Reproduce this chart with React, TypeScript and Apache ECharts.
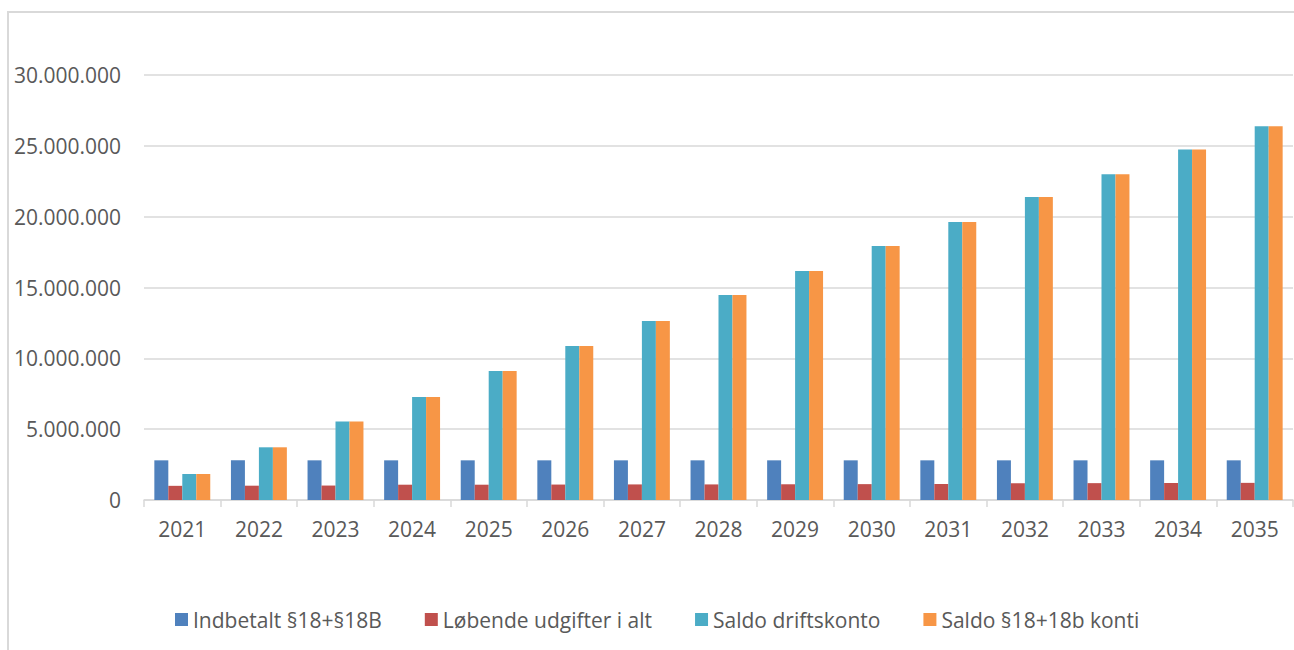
import React, { useEffect, useRef } from "react";
import * as echarts from "echarts";

const years = ["2021", "2022", "2023", "2024", "2025", "2026", "2027", "2028", "2029", "2030", "2031", "2032", "2033", "2034", "2035"];
const indbetalt = [2800000, 2800000, 2800000, 2800000, 2800000, 2800000, 2800000, 2800000, 2800000, 2800000, 2800000, 2800000, 2800000, 2800000, 2800000];
const loebende = [1000000, 1010000, 1020000, 1080000, 1080000, 1090000, 1100000, 1100000, 1110000, 1120000, 1130000, 1180000, 1190000, 1200000, 1210000];
const saldoDrift = [1830000, 3720000, 5550000, 7270000, 9100000, 10870000, 12630000, 14470000, 16160000, 17930000, 19620000, 21380000, 23000000, 24750000, 26390000];
const saldo18 = [1830000, 3720000, 5550000, 7270000, 9100000, 10870000, 12630000, 14470000, 16160000, 17930000, 19620000, 21380000, 23000000, 24750000, 26390000];
const seriesNames = ["Indbetalt §18+§18B", "Løbende udgifter i alt", "Saldo driftskonto", "Saldo §18+18b konti"];
const colors = ["#4F81BD", "#C0504D", "#4BACC6", "#F79646"];

const fmt = (v: number) => String(Math.round(v)).replace(/\B(?=(\d{3})+(?!\d))/g, ".");

export default function App() {
  const ref = useRef<HTMLDivElement>(null);
  useEffect(() => {
    if (!ref.current) return;
    const chart = echarts.init(ref.current, undefined, { renderer: "svg" });
    const font = "'Open Sans', sans-serif";
    const data = [indbetalt, loebende, saldoDrift, saldo18];
    chart.setOption({
      animation: false,
      color: colors,
      textStyle: { fontFamily: font },
      graphic: [
        {
          type: "rect",
          shape: { x: 8, y: 12, width: 1400, height: 800 },
          style: { fill: "none", stroke: "#d9d9d9", lineWidth: 2 },
          silent: true,
        },
      ],
      grid: { left: 144, right: 1, top: 75, bottom: 150, containLabel: false },
      legend: {
        left: 170,
        top: 604,
        itemWidth: 13,
        itemHeight: 13,
        itemGap: 43,
        icon: "rect",
        textStyle: { fontSize: 21, color: "#595959", fontFamily: font },
        data: seriesNames,
      },
      xAxis: {
        type: "category",
        data: years,
        boundaryGap: true,
        axisLine: { lineStyle: { color: "#d9d9d9", width: 1.5 } },
        axisTick: { show: true, length: 7, lineStyle: { color: "#d9d9d9", width: 1.5 } },
        axisLabel: { color: "#595959", fontSize: 21, margin: 18, fontFamily: font },
      },
      yAxis: {
        type: "value",
        min: 0,
        max: 30000000,
        interval: 5000000,
        axisLine: { show: false },
        axisTick: { show: false },
        splitLine: { lineStyle: { color: "#d9d9d9", width: 1.5 } },
        axisLabel: { color: "#595959", fontSize: 21, margin: 23, fontFamily: font, formatter: (v: number) => fmt(v) },
      },
      series: seriesNames.map((name, i) => ({
        name,
        type: "bar",
        data: data[i],
        barGap: "0%",
        barCategoryGap: "27%",
        itemStyle: { color: colors[i] },
      })),
    });
    return () => chart.dispose();
  }, []);
  return <div ref={ref} style={{ position: "fixed", left: 0, top: 0, width: 1294, height: 650, background: "#fff" }} />;
}
